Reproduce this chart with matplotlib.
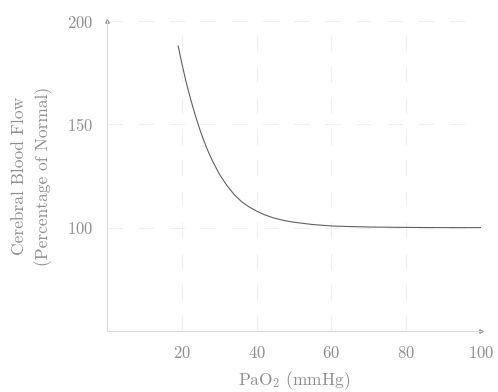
import matplotlib
matplotlib.use('Agg')
import matplotlib.pyplot as plt

# PaO2 (mmHg) vs cerebral blood flow (% of normal)
pao2 = [19, 20, 21, 22, 23, 24, 25, 26, 27, 28, 29, 30, 32, 34, 36, 38,
        40, 42, 44, 46, 48, 50, 55, 60, 65, 70, 80, 90, 100]
cbf = [188, 179.5, 171.5, 164.5, 158, 152, 146.5, 141.5, 137, 133, 129.5,
       126, 120.5, 116, 112.5, 110, 108, 106.3, 105, 104, 103.2, 102.6,
       101.5, 100.8, 100.5, 100.3, 100.1, 100, 100]

x_ticks = [20, 40, 60, 80, 100]
y_ticks = [100, 150, 200]

plt.rcParams['font.family'] = 'serif'
plt.rcParams['font.serif'] = ['cmr10']
plt.rcParams['mathtext.fontset'] = 'cm'
plt.rcParams['axes.formatter.use_mathtext'] = True

fig = plt.figure(figsize=(4.98, 3.92), dpi=100)
ax = fig.add_axes([0.215, 0.156, 0.751, 0.79])

text_col = '#8f8f8f'
axis_col = '#dcdcdc'

ax.plot(pao2, cbf, color='#606060', lw=0.8, zorder=3)

ax.set_xlim(0, 100)
ax.set_ylim(50, 200)
ax.set_xticks(x_ticks)
ax.set_yticks(y_ticks)
ax.tick_params(length=0, labelsize=12, colors=text_col, pad=10)

ax.grid(True, color='#f0f0f0', lw=0.8, dashes=(14, 14))

for s in ['top', 'right']:
    ax.spines[s].set_visible(False)
for s in ['left', 'bottom']:
    ax.spines[s].set_color(axis_col)
    ax.spines[s].set_linewidth(0.8)

# small arrow tips at the ends of the axes
ax.plot(1, 0, '>', color='#999999', ms=2.5, transform=ax.transAxes, clip_on=False)
ax.plot(0, 1, '^', color='#999999', ms=2.5, transform=ax.transAxes, clip_on=False)

ax.set_xlabel(r'PaO$_2$ (mmHg)', fontsize=12.5, color=text_col, labelpad=6)
ax.set_ylabel('Cerebral Blood Flow\n(Percentage of Normal)', fontsize=12.5,
              color=text_col, labelpad=10, linespacing=1.5)

fig.savefig('out.png', dpi=100, facecolor='white')
